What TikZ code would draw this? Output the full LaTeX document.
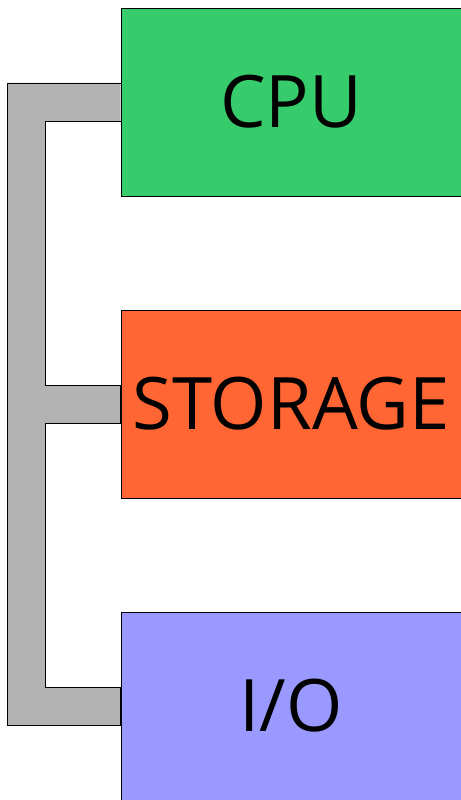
\documentclass[tikz,border=0pt]{standalone}
\usepackage{fontspec}
\setmainfont{Open Sans}
\usepackage{xcolor}
\usetikzlibrary{calc,backgrounds}
\definecolor{cpuverde}{HTML}{36CC6B}
\definecolor{almnaranja}{HTML}{FF6633}
\definecolor{iolila}{HTML}{9999FF}
\definecolor{busgris}{HTML}{B3B3B3}

\begin{document}
\begin{tikzpicture}[
  bloque/.style={draw=black, line width=0.4pt, minimum width=6.8cm, minimum height=3.76cm, inner sep=0pt, font=\fontsize{41.2}{45}\selectfont},
  bus/.style={draw=black, fill=busgris, line width=0.5pt}
]
\useasboundingbox (0,0) rectangle (9.22,-16);
% bloques
\node[bloque, fill=cpuverde] (cpu) at (5.82,-2.04) {CPU};
\node[bloque, fill=almnaranja] (storage) at (5.82,-8.08) {STORAGE};
\node[bloque, fill=iolila] (io) at (5.82,-14.12) {I/O};

% bus
\begin{scope}[on background layer]
\draw[bus] ($(cpu.west)+(0,0.38)$) -- ++(-2.26,0) |- ($(io.west)+(0,-0.38)$)
  -- ($(io.west)+(0,0.38)$) -- ++(-1.5,0) |- ($(storage.west)+(0,-0.38)$)
  -- ($(storage.west)+(0,0.38)$) -- ++(-1.5,0) |- ($(cpu.west)+(0,-0.38)$);
\end{scope}
\end{tikzpicture}
\end{document}
